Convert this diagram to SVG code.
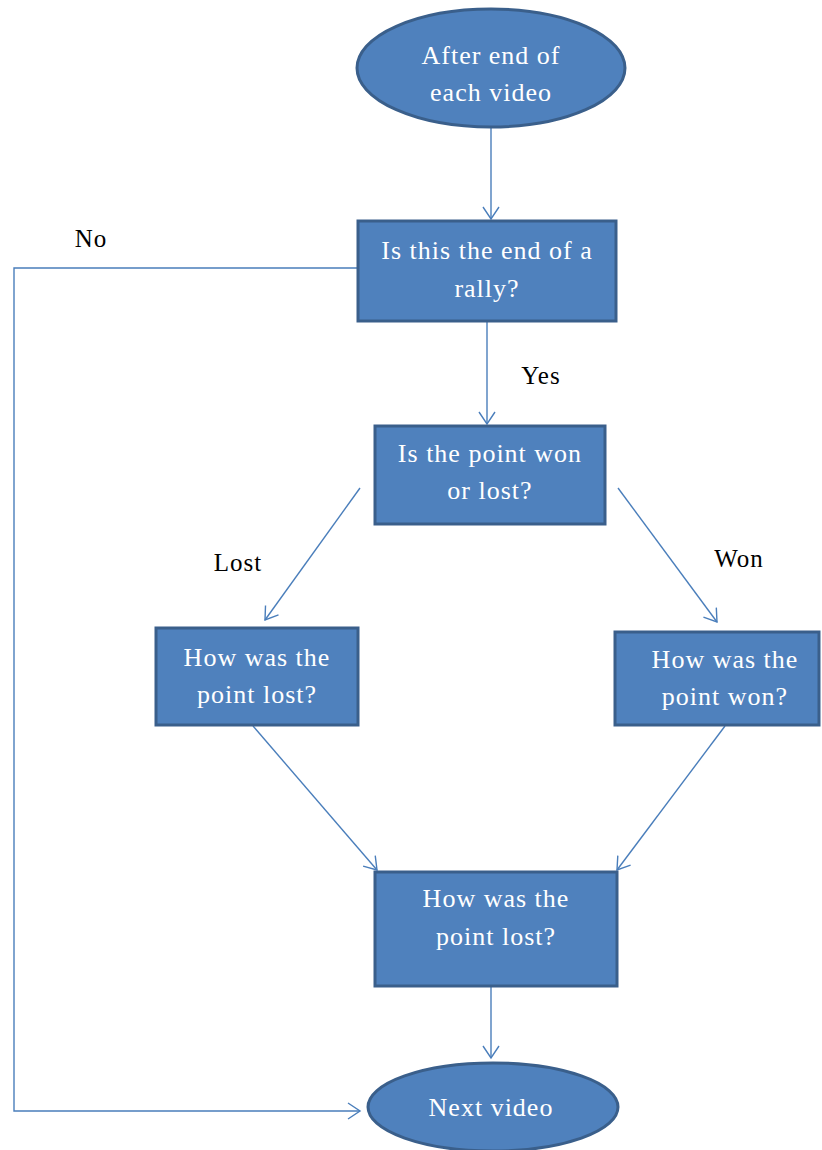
<svg xmlns="http://www.w3.org/2000/svg" width="822" height="1150" viewBox="0 0 822 1150">
<style>
.node{fill:#4F81BD;stroke:#3A5F8B;stroke-width:3}
.nt{font-family:"Liberation Serif","Times New Roman",serif;font-size:26px;fill:#FFFFFF;text-anchor:middle;letter-spacing:1px}
.lbl{font-family:"Liberation Serif","Times New Roman",serif;font-size:25px;fill:#000000;text-anchor:middle;letter-spacing:1px}
.con{fill:none;stroke:#4A7EBB;stroke-width:1.4}
</style>
<defs>
<marker id="arr" viewBox="-14 -9 16 18" refX="0" refY="0" markerWidth="16" markerHeight="18" markerUnits="userSpaceOnUse" orient="auto">
<path d="M-12,-8 L0,0 L-12,8" fill="none" stroke="#4A7EBB" stroke-width="1.4"/>
</marker>
</defs>
<g id="connectors">
<path class="con" d="M491,128 L491,219" marker-end="url(#arr)"/>
<path class="con" d="M357,268 L14,268 L14,1111 L360,1111" marker-end="url(#arr)"/>
<path class="con" d="M487,322 L487,424" marker-end="url(#arr)"/>
<path class="con" d="M360,488 L265,620" marker-end="url(#arr)"/>
<path class="con" d="M618,488 L717,622" marker-end="url(#arr)"/>
<path class="con" d="M253,726 L377,870" marker-end="url(#arr)"/>
<path class="con" d="M725,726 L617,870" marker-end="url(#arr)"/>
<path class="con" d="M491,987 L491,1058" marker-end="url(#arr)"/>
</g>
<g id="labels">
<text class="lbl" x="91" y="247">No</text>
<text class="lbl" x="541" y="384">Yes</text>
<text class="lbl" x="238" y="571">Lost</text>
<text class="lbl" x="739" y="567">Won</text>
</g>
<g id="start">
<ellipse class="node" cx="491" cy="68" rx="134" ry="59"/>
<text class="nt" x="491" y="64">After end of</text>
<text class="nt" x="491" y="101">each video</text>
</g>
<g id="rally">
<rect class="node" x="358" y="221" width="258" height="100"/>
<text class="nt" x="487" y="259">Is this the end of a</text>
<text class="nt" x="487" y="297">rally?</text>
</g>
<g id="wonlost">
<rect class="node" x="375" y="426" width="230" height="98"/>
<text class="nt" x="490" y="462">Is the point won</text>
<text class="nt" x="490" y="499">or lost?</text>
</g>
<g id="howlost">
<rect class="node" x="156" y="628" width="202" height="97"/>
<text class="nt" x="257" y="666">How was the</text>
<text class="nt" x="257" y="703">point lost?</text>
</g>
<g id="howwon">
<rect class="node" x="615" y="632" width="204" height="93"/>
<text class="nt" x="725" y="668">How was the</text>
<text class="nt" x="725" y="705">point won?</text>
</g>
<g id="howlost2">
<rect class="node" x="375" y="872" width="242" height="114"/>
<text class="nt" x="496" y="907">How was the</text>
<text class="nt" x="496" y="945">point lost?</text>
</g>
<g id="next">
<ellipse class="node" cx="493" cy="1107" rx="125" ry="44"/>
<text class="nt" x="491" y="1116">Next video</text>
</g>
</svg>
